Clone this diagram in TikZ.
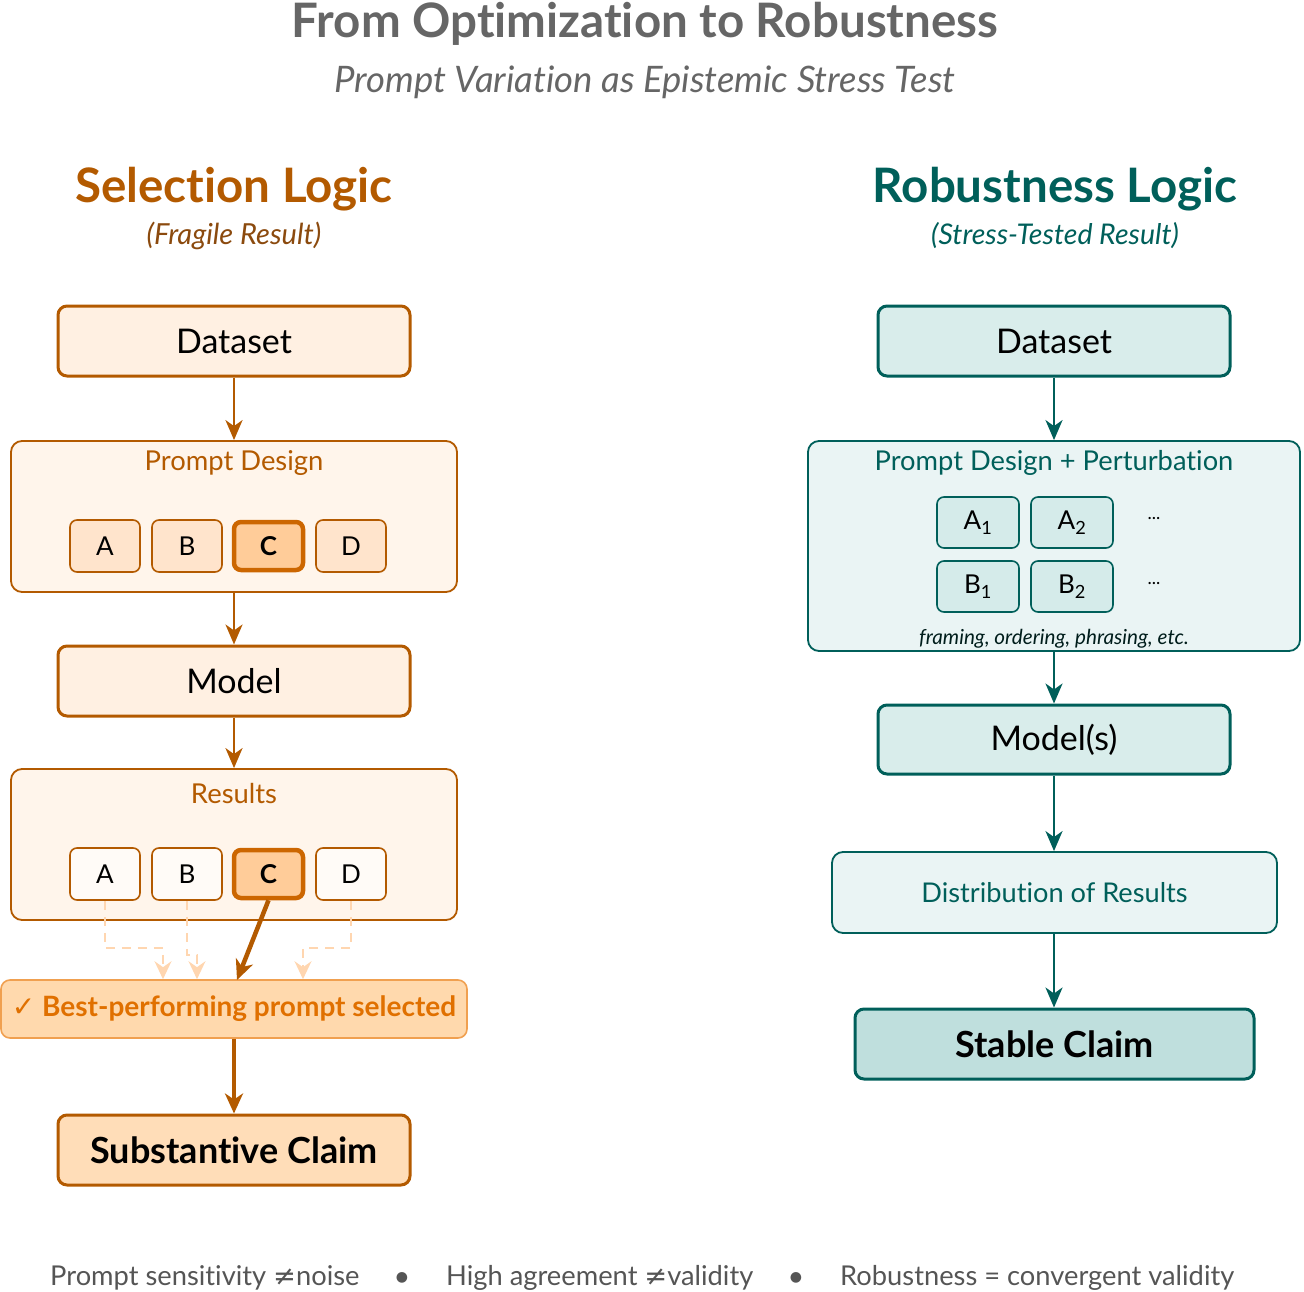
\documentclass[tikz,border=0pt]{standalone}
\usepackage{fontspec}
\setmainfont[Ligatures=NoCommon]{Lato}
\newfontfamily\symf{DejaVu Sans}
\usetikzlibrary{arrows.meta}
\definecolor{ordk}{HTML}{B35A00}
\definecolor{orC}{HTML}{CC6600}
\definecolor{orbr}{HTML}{8B4A0E}
\definecolor{orfill}{HTML}{FFF0E2}
\definecolor{orpale}{HTML}{FFF5EB}
\definecolor{orchip}{HTML}{FFE4CC}
\definecolor{orCfill}{HTML}{FFCC99}
\definecolor{orbest}{HTML}{FFD9AD}
\definecolor{orbestd}{HTML}{F0A050}
\definecolor{orbestt}{HTML}{E07000}
\definecolor{orsub}{HTML}{FFDDB8}
\definecolor{ordash}{HTML}{FFD6B0}
\definecolor{tl}{HTML}{005F5A}
\definecolor{tlfill}{HTML}{D9EDEB}
\definecolor{tlpale}{HTML}{EAF4F4}
\definecolor{tlchip}{HTML}{D5EBEA}
\definecolor{tlstab}{HTML}{BFDFDD}
\definecolor{gry}{HTML}{666666}
\definecolor{gryf}{HTML}{555555}
\tikzset{
  box/.style={rounded corners=9pt, line width=3pt, font=\fontsize{34}{40}\selectfont, text=black},
  obox/.style={box, draw=ordk, fill=orfill},
  tbox/.style={box, draw=tl, fill=tlfill},
  grp/.style={rounded corners=11pt, line width=1.8pt},
  ochip/.style={rounded corners=7pt, line width=1.6pt, draw=ordk, fill=orchip, minimum width=70pt, minimum height=52pt, font=\fontsize{26}{30}\selectfont},
  ochipsel/.style={ochip, line width=4.5pt, draw=orC, fill=orCfill, minimum width=69pt, minimum height=48pt, font=\fontsize{26}{30}\selectfont\bfseries},
  tchip/.style={rounded corners=7pt, line width=1.6pt, draw=tl, fill=tlchip, minimum width=82pt, minimum height=51pt, font=\fontsize{26}{30}\selectfont},
  oarr/.style={draw=ordk, line width=2.6pt, -{Stealth[length=20pt,width=17pt,inset=6pt]}},
  tarr/.style={draw=tl, line width=2.6pt, -{Stealth[length=20pt,width=17pt,inset=6pt]}},
  darr/.style={draw=ordash, line width=1.8pt, dash pattern=on 9pt off 7pt, -{Stealth[length=18pt,width=17pt,inset=6pt]}},
  thk/.style={draw=ordk, line width=4.5pt, -{Stealth[length=20pt,width=18pt,inset=6pt]}},
}
\begin{document}
\begin{tikzpicture}[x=1pt,y=-1pt]
\useasboundingbox (0,0) rectangle (1304,1292);
% titles
\node[font=\fontsize{47.5}{54}\selectfont\bfseries, text=gry] (title) at (645,24) {From Optimization to Robustness};
\node[font=\fontsize{36.5}{42}\selectfont\itshape, text=gry] (subtitle) at (645,82) {Prompt Variation as Epistemic Stress Test};
\node[font=\fontsize{47.5}{54}\selectfont\bfseries, text=ordk] (selT) at (234,189) {Selection Logic};
\node[font=\fontsize{29}{34}\selectfont\itshape, text=orbr] (selS) at (234,236) {(Fragile Result)};
\node[font=\fontsize{47.5}{54}\selectfont\bfseries, text=tl] (robT) at (1055,189) {Robustness Logic};
\node[font=\fontsize{28.5}{34}\selectfont\itshape, text=tl] (robS) at (1055,236) {(Stress-Tested Result)};

% ---------- left column ----------
\node[obox, minimum width=352pt, minimum height=70pt] (dsL) at (234,341) {Dataset};
\node[grp, draw=ordk, fill=orpale, minimum width=446pt, minimum height=151pt] (pdL) at (234,516.5) {};
\node[font=\fontsize{27.4}{32}\selectfont, text=ordk] (pdLl) at (234,463) {Prompt Design};
\node[ochip] (pA) at (105,546) {A};
\node[ochip] (pB) at (187,546) {B};
\node[ochipsel] (pC) at (268.5,546) {C};
\node[ochip] (pD) at (351,546) {D};
\node[obox, minimum width=352pt, minimum height=70pt] (modL) at (234,681) {Model};
\node[grp, draw=ordk, fill=orpale, minimum width=446pt, minimum height=151pt] (resL) at (234,844.5) {};
\node[font=\fontsize{27.4}{32}\selectfont, text=ordk] (resLl) at (234,794) {Results};
\node[ochip, fill=white!60!orpale] (rA) at (105,874) {A};
\node[ochip, fill=white!60!orpale] (rB) at (187,874) {B};
\node[ochipsel] (rC) at (268.5,874) {C};
\node[ochip, fill=white!60!orpale] (rD) at (351,874) {D};
\node[rounded corners=9pt, line width=1.6pt, draw=orbestd, fill=orbest, minimum width=466pt, minimum height=58pt, text=orbestt, font=\fontsize{28}{32}\selectfont\bfseries] (best) at (234,1009) {{\symf\mdseries ✓}\ Best-performing prompt selected};
\node[obox, fill=orsub, minimum width=352pt, minimum height=70pt, font=\fontsize{36}{42}\selectfont\bfseries] (subL) at (234,1150) {Substantive Claim};

\draw[oarr] (dsL.south) -- (pdL.north);
\draw[oarr] (pdL.south) -- (modL.north);
\draw[oarr] (modL.south) -- (resL.north);
\coordinate (dA) at (163,948);
\coordinate (dB) at (197,955);
\coordinate (dD) at (303,948);
\draw[darr] (rA.south) |- (dA) -- (dA |- best.north);
\draw[darr] (rB.south) |- (dB) -- (dB |- best.north);
\draw[darr] (rD.south) |- (dD) -- (dD |- best.north);
\draw[thk] (rC.south) -- (237,980);
\draw[thk] (best.south) -- (subL.north);

% ---------- right column ----------
\node[tbox, minimum width=352pt, minimum height=70pt] (dsR) at (1054,341) {Dataset};
\node[grp, draw=tl, fill=tlpale, minimum width=492pt, minimum height=210pt] (pdR) at (1054,546) {};
\node[font=\fontsize{27.3}{32}\selectfont, text=tl] (pdRl) at (1054,463) {Prompt Design + Perturbation};
\node[tchip] (A1) at (978,522.5) {A\textsubscript{1}};
\node[tchip] (A2) at (1072,522.5) {A\textsubscript{2}};
\node[tchip] (B1) at (978,586.5) {B\textsubscript{1}};
\node[tchip] (B2) at (1072,586.5) {B\textsubscript{2}};
\node[font=\fontsize{18}{20}\selectfont] (dA2) at (1154,519) {...};
\node[font=\fontsize{18}{20}\selectfont] (dB2) at (1154,584) {...};
\node[font=\fontsize{20.7}{24}\selectfont\itshape, text=black!70!tl] (frm) at (1054,639) {framing, ordering, phrasing, etc.};
\node[tbox, minimum width=352pt, minimum height=69pt] (modR) at (1054,739.5) {Model(s)};
\node[rounded corners=11pt, line width=1.8pt, draw=tl, fill=tlpale, minimum width=445pt, minimum height=81pt, text=tl, font=\fontsize{27.2}{32}\selectfont] (distR) at (1054.5,892.5) {Distribution of Results};
\node[tbox, fill=tlstab, minimum width=399pt, minimum height=70pt, font=\fontsize{36}{42}\selectfont\bfseries] (stabR) at (1054.5,1044) {Stable Claim};

\draw[tarr] (dsR.south) -- (pdR.north);
\draw[tarr] (pdR.south) -- (modR.north);
\draw[tarr] (modR.south) -- (modR.south |- distR.north);
\draw[tarr] (distR.south -| modR.south) -- (modR.south |- stabR.north);

% ---------- footer ----------
\node[font=\fontsize{27.3}{32}\selectfont, text=gryf, anchor=west, inner sep=0pt] (f1) at (50,1278) {Prompt sensitivity {\symf≠}noise};
\node[text=gryf, font=\fontsize{14}{16}\selectfont\symf] (b1) at (402,1278) {●};
\node[font=\fontsize{27.3}{32}\selectfont, text=gryf, anchor=west, inner sep=0pt] (f2) at (446,1278) {High agreement {\symf≠}validity};
\node[text=gryf, font=\fontsize{14}{16}\selectfont\symf] (b2) at (796,1278) {●};
\node[font=\fontsize{27.3}{32}\selectfont, text=gryf, anchor=west, inner sep=0pt] (f3) at (840,1278) {Robustness = convergent validity};
\end{tikzpicture}
\end{document}
